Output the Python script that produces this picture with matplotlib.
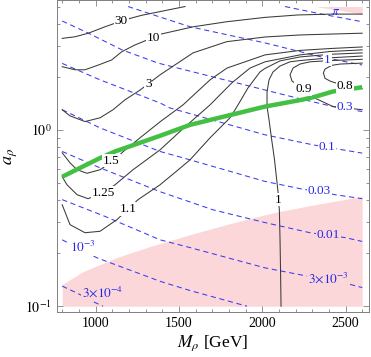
import numpy as np
import matplotlib
matplotlib.use('Agg')
import matplotlib.pyplot as plt
from matplotlib.ticker import FixedLocator, NullFormatter, LogLocator

plt.rcParams['font.family'] = ['Liberation Serif', 'DejaVu Serif']
plt.rcParams['mathtext.fontset'] = 'stix'

# ---------------- data (M_rho in GeV, a_rho) ----------------
# black solid contours
c30_M = [800, 877, 957, 1057, 1117, 1195, 1277, 1387, 1537]
c30_a = [3.30, 3.37, 3.53, 3.84, 4.02, 4.25, 4.46, 4.68, 5.0]

c10_M = [800, 877, 937, 1017, 1097, 1157, 1237, 1285, 1387, 1587, 1787, 2017, 2215, 2417, 2600]
c10_a = [2.28, 2.19, 2.19, 2.33, 2.49, 2.77, 3.03, 3.16, 3.48, 3.84, 4.10, 4.34, 4.48, 4.53, 4.53]

c3_M = [800, 847, 937, 1027, 1105, 1177, 1267, 1387, 1585, 1787, 2017, 2227, 2407, 2600]
c3_a = [1.30, 1.20, 1.114, 1.17, 1.30, 1.48, 1.68, 2.05, 2.73, 3.16, 3.36, 3.45, 3.49, 3.53]

c15_M = [800, 847, 889, 949, 1027, 1117, 1165, 1267, 1387, 1525, 1687, 1789, 2017, 2227, 2407, 2600]
c15_a = [0.741, 0.650, 0.594, 0.567, 0.594, 0.68, 0.751, 0.901, 1.11, 1.385, 1.92, 2.24, 2.66, 2.82, 2.89, 2.95]

c125_M = [800, 829, 889, 955, 1048, 1117, 1225, 1387, 1537, 1687, 1819, 1927, 2017, 2227, 2407, 2600]
c125_a = [0.542, 0.488, 0.429, 0.407, 0.44, 0.488, 0.594, 0.770, 1.04, 1.385, 1.85, 2.24, 2.43, 2.66, 2.78, 2.84]

c11_M = [800, 847, 937, 1027, 1129, 1198, 1255, 1387, 1489, 1567, 1687, 1807, 1855, 1915, 1987, 2017, 2107, 2227, 2407, 2600]
c11_a = [0.376, 0.290, 0.261, 0.266, 0.310, 0.357, 0.402, 0.488, 0.586, 0.676, 0.901, 1.17, 1.385, 1.73, 2.13, 2.23, 2.46, 2.59, 2.68, 2.73]

c1_M = [2113, 2110, 2107, 2103, 2097, 2095, 2087, 2074, 2057, 2041, 2029, 2029, 2041, 2065, 2107, 2167, 2227, 2407, 2600]
c1_a = [0.100, 0.161, 0.238, 0.352, 0.402, 0.446, 0.521, 0.676, 0.878, 1.14, 1.355, 1.64, 1.92, 2.13, 2.30, 2.43, 2.47, 2.56, 2.62]

c09_M = [2600, 2407, 2287, 2227, 2185, 2167, 2179, 2247, 2305, 2425, 2600]
c09_a = [2.51, 2.47, 2.43, 2.36, 2.24, 2.05, 1.89, 1.71, 1.53, 1.355, 1.30]

c08_M = [2600, 2467, 2417, 2377, 2367, 2377, 2407, 2497, 2557, 2600]
c08_a = [2.39, 2.36, 2.32, 2.21, 2.10, 1.96, 1.89, 1.77, 1.72, 1.71]

black_curves = [(c30_M, c30_a), (c10_M, c10_a), (c3_M, c3_a), (c15_M, c15_a),
                (c125_M, c125_a), (c11_M, c11_a), (c1_M, c1_a), (c09_M, c09_a), (c08_M, c08_a)]
black_texts = ['30', '10', '3', '1.5', '1.25', '1.1', '1', '0.9', '0.8']
black_lab_M = [1155, 1348, 1317, 1096, 1048, 1198, 2097, 2247, 2497]
black_lab_a = [4.12, 3.33, 1.83, 0.670, 0.44, 0.357, 0.402, 1.71, 1.77]

# blue dashed contours
bpi_M = [2137, 2347, 2600]
bpi_a = [5.0, 4.55, 4.10]
b1_M = [1195, 1387, 1567, 2017, 2347, 2600]
b1_a = [5.0, 4.36, 3.84, 3.11, 2.60, 2.33]
b03_M = [800, 955, 1159, 1375, 1585, 1987, 2227, 2425, 2600]
b03_a = [4.14, 3.54, 2.84, 2.39, 2.13, 1.71, 1.50, 1.355, 1.27]
b01_M = [800, 1027, 1387, 1447, 2017, 2305, 2600]
b01_a = [2.38, 1.92, 1.42, 1.33, 0.937, 0.822, 0.738]
b003_M = [800, 1027, 1387, 1567, 2017, 2227, 2437, 2600]
b003_a = [1.30, 1.026, 0.754, 0.676, 0.510, 0.464, 0.429, 0.407]
b001_M = [800, 1027, 1387, 1705, 2017, 2287, 2497, 2600]
b001_a = [0.754, 0.609, 0.446, 0.352, 0.298, 0.261, 0.245, 0.233]
b3e3_M = [800, 1057, 1387, 1567, 2017, 2257, 2527, 2600]
b3e3_a = [0.402, 0.323, 0.238, 0.215, 0.165, 0.149, 0.133, 0.1276]
b1e3_M = [800, 1009, 1387, 1567, 1909]
b1e3_a = [0.238, 0.188, 0.1385, 0.1227, 0.100]
b3e4_M = [800, 887, 997, 1045]
b3e4_a = [0.130, 0.119, 0.105, 0.100]

blue_curves = [(bpi_M, bpi_a), (b1_M, b1_a), (b03_M, b03_a), (b01_M, b01_a), (b003_M, b003_a),
               (b001_M, b001_a), (b3e3_M, b3e3_a), (b1e3_M, b1e3_a), (b3e4_M, b3e4_a)]
blue_texts = [r'$\pi$', '1', '0.3', '0.1', '0.03', '0.01', r'$3{\times}10^{-3}$', r'$10^{-3}$', r'$3{\times}10^{-4}$']
blue_lab_M = [2439, 2392, 2497, 2389, 2343, 2395, 2395, 927, 1042]
blue_lab_a = [4.65, 2.50, 1.34, 0.796, 0.448, 0.2545, 0.144, 0.216, 0.1196]
blue_lab_on_pink = [None, False, False, False, False, True, True, False, True]

# green line
green_M = [800, 1027, 1117, 1387, 1567, 2017, 2237, 2317, 2425, 2557, 2600]
green_a = [0.542, 0.692, 0.754, 0.925, 1.067, 1.355, 1.48, 1.54, 1.65, 1.72, 1.745]

# pink excluded regions
pink_low_M = [800, 925, 1129, 1327, 1567, 1807, 2017, 2107, 2347, 2600]
pink_low_a = [0.133, 0.157, 0.189, 0.218, 0.2545, 0.294, 0.330, 0.345, 0.381, 0.419]
pink_low_floor = 0.1
pink_top_M = [2317, 2460, 2600]
pink_top_a = [5.0, 4.77, 4.53]
pink_top_ceiling = 5.0

x_major = [1000, 1500, 2000, 2500]
y_major = [0.1, 1.0]
y_major_labels = [r'$10^{-1}$', r'$10^{0}$']

# ---------------- plotting ----------------
PINK = '#fcd7d9'
fig = plt.figure(figsize=(3.71, 3.57), dpi=100)
ax = fig.add_axes([0.1528, 0.1255, 0.8410, 0.8731])
ax.set_yscale('log')
ax.set_xlim(767, 2639)
ax.set_ylim(0.0925, 5.41)

ax.fill_between(pink_low_M, pink_low_floor, pink_low_a, color=PINK, lw=0, zorder=1)
ax.fill_between(pink_top_M, pink_top_a, pink_top_ceiling, color=PINK, lw=0, zorder=1)

for (m, a) in blue_curves:
    ax.plot(m, a, color='#3a3af0', lw=0.75, ls=(0, (5, 3.5)), zorder=2)
for (m, a) in black_curves:
    ax.plot(m, a, color='#3a3a3a', lw=0.75, zorder=3)
ax.plot(green_M, green_a, color='#43c043', lw=3.2, solid_capstyle='butt', zorder=4)

for t, m, a in zip(black_texts, black_lab_M, black_lab_a):
    ax.text(m, a, t, fontsize=9.5, color='black', ha='center', va='center', zorder=6,
            bbox=dict(facecolor='white', edgecolor='none', pad=0.6))
for t, m, a, pk in zip(blue_texts, blue_lab_M, blue_lab_a, blue_lab_on_pink):
    kw = {}
    if pk is not None:
        kw['bbox'] = dict(facecolor=PINK if pk else 'white', edgecolor='none', pad=0.6)
    ax.text(m, a, t, fontsize=9.5, color='#2828e8', ha='center', va='center', zorder=6, **kw)

ax.xaxis.set_major_locator(FixedLocator(x_major))
ax.xaxis.set_minor_locator(FixedLocator(np.arange(800, 2700, 100)))
ax.yaxis.set_major_locator(FixedLocator(y_major))
ax.set_yticklabels(y_major_labels)
ax.yaxis.set_minor_locator(LogLocator(base=10, subs=np.arange(2, 10)))
ax.yaxis.set_minor_formatter(NullFormatter())
ax.tick_params(which='both', direction='in', top=True, right=True, color='#808080', width=0.6)
ax.tick_params(which='major', length=4, labelsize=10, pad=3.5)
ax.tick_params(which='minor', length=2)
for s in ax.spines.values():
    s.set_color('#808080')
    s.set_linewidth(0.7)

ax.set_xlabel(r'$M_\rho$ [GeV]', fontsize=12.5)
ax.xaxis.set_label_coords(0.5, -0.068)
ax.set_ylabel(r'$a_\rho$', fontsize=13)
ax.yaxis.set_label_coords(-0.118, 0.5)

fig.savefig('out.png', dpi=100)
